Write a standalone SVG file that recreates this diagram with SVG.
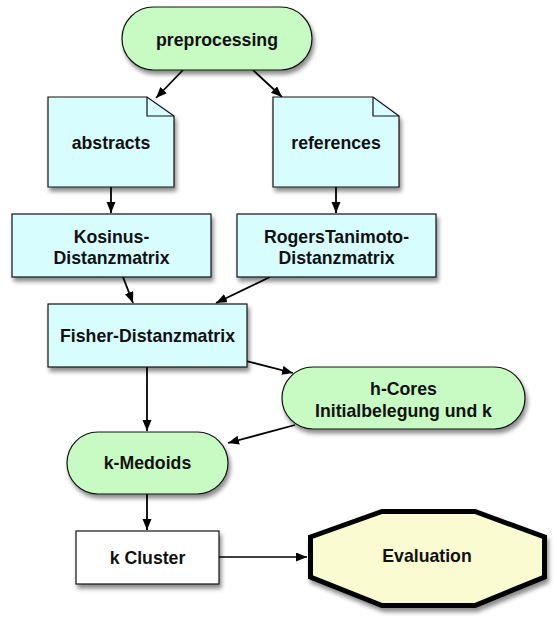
<svg xmlns="http://www.w3.org/2000/svg" width="557" height="618" viewBox="0 0 557 618">
<defs>
<filter id="sh" x="-20%" y="-20%" width="140%" height="150%">
<feDropShadow dx="2" dy="4" stdDeviation="2.2" flood-color="#000" flood-opacity="0.45"/>
</filter>
<marker id="ah" markerUnits="userSpaceOnUse" markerWidth="12" markerHeight="10" refX="11" refY="4.5" orient="auto">
<path d="M0,0 L11,4.5 L0,9 Z" fill="#000"/>
</marker>
</defs>
<style>
.t{font-family:"Liberation Sans",Arial,Helvetica,sans-serif;font-weight:bold;font-size:17.7px;fill:#111;text-anchor:middle}
.g{fill:#c8fac3;stroke:#111;stroke-width:1.2}
.c{fill:#d8fdff;stroke:#111;stroke-width:1.2}
.w{fill:#fff;stroke:#111;stroke-width:1.2}
.e{fill:#fbfbd1;stroke:#000;stroke-width:5;stroke-linejoin:miter}
.fold{fill:none;stroke:#111;stroke-width:1.2}
.a{fill:none;stroke:#000;stroke-width:1.8;marker-end:url(#ah)}
</style>
<g id="connectors">
<line class="a" x1="183" y1="70" x2="156" y2="98"/>
<line class="a" x1="253" y1="70" x2="282" y2="97"/>
<line class="a" x1="111" y1="187" x2="111" y2="213"/>
<line class="a" x1="336" y1="187" x2="336" y2="213"/>
<line class="a" x1="123" y1="277" x2="133" y2="303"/>
<line class="a" x1="270" y1="277" x2="216" y2="303"/>
<line class="a" x1="147" y1="367" x2="147" y2="431"/>
<line class="a" x1="246" y1="361" x2="293" y2="373"/>
<line class="a" x1="295" y1="425" x2="228" y2="443"/>
<line class="a" x1="147" y1="494" x2="147" y2="530"/>
<line class="a" x1="219" y1="557" x2="307" y2="557" style="stroke-width:1.3"/>
</g>
<g id="preprocessing">
<rect class="g" x="122" y="7" width="190" height="63" rx="31.5" filter="url(#sh)"/>
<text class="t" x="217" y="46">preprocessing</text>
</g>
<g id="abstracts">
<path class="c" d="M48,97 H147 L174,116 V187 H48 Z" filter="url(#sh)"/>
<path class="fold" d="M147,97 V116 H174"/>
<text class="t" x="111" y="149">abstracts</text>
</g>
<g id="references">
<path class="c" d="M273,97 H373 L399,116 V187 H273 Z" filter="url(#sh)"/>
<path class="fold" d="M373,97 V116 H399"/>
<text class="t" x="336" y="149">references</text>
</g>
<g id="kosinus">
<rect class="c" x="12" y="214" width="199" height="63" filter="url(#sh)"/>
<text class="t" x="111.5" y="243">Kosinus-</text>
<text class="t" x="111.5" y="264">Distanzmatrix</text>
</g>
<g id="rogers">
<rect class="c" x="237" y="214" width="199" height="63" filter="url(#sh)"/>
<text class="t" x="336.5" y="243">RogersTanimoto-</text>
<text class="t" x="336.5" y="264">Distanzmatrix</text>
</g>
<g id="fisher">
<rect class="c" x="48" y="304" width="199" height="63" filter="url(#sh)"/>
<text class="t" x="147.5" y="342">Fisher-Distanzmatrix</text>
</g>
<g id="hcores">
<rect class="g" x="282" y="367" width="243" height="62" rx="31" filter="url(#sh)"/>
<text class="t" x="403.5" y="395">h-Cores</text>
<text class="t" x="403.5" y="417">Initialbelegung und k</text>
</g>
<g id="kmedoids">
<rect class="g" x="67" y="432" width="161" height="62" rx="31" filter="url(#sh)"/>
<text class="t" x="147.5" y="469">k-Medoids</text>
</g>
<g id="kcluster">
<rect class="w" x="76" y="531" width="143" height="53" filter="url(#sh)"/>
<text class="t" x="147.5" y="564">k Cluster</text>
</g>
<g id="evaluation">
<polygon class="e" points="310.5,537 382,511.5 475,511.5 544.5,537 544.5,577 475,605.5 382,605.5 310.5,577" filter="url(#sh)"/>
<text class="t" x="427" y="562">Evaluation</text>
</g>
</svg>
